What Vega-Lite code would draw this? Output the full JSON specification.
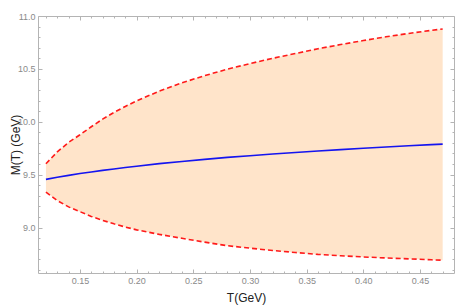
{
  "$schema": "https://vega.github.io/schema/vega-lite/v6.json",
  "width": 416,
  "height": 257,
  "autosize": {"type": "none"},
  "padding": {"left": 38, "top": 16, "right": 17, "bottom": 32},
  "background": "white",
  "config": {
    "view": {"stroke": "#b4b4b4", "strokeWidth": 1},
    "font": "Liberation Sans",
    "axis": {
      "grid": false,
      "domain": false,
      "tickColor": "#b4b4b4",
      "labelColor": "#8a8a8a",
      "labelFont": "Liberation Sans",
      "labelFontSize": 9,
      "titleFont": "Liberation Sans",
      "titleFontSize": 12,
      "titleFontWeight": "normal",
      "titleColor": "#222222"
    }
  },
  "data": {
    "values": [
      {"T": 0.12, "lower": 9.335, "mid": 9.455, "upper": 9.603},
      {"T": 0.13, "lower": 9.255, "mid": 9.475, "upper": 9.715},
      {"T": 0.14, "lower": 9.195, "mid": 9.493, "upper": 9.805},
      {"T": 0.15, "lower": 9.150, "mid": 9.510, "upper": 9.877},
      {"T": 0.16, "lower": 9.105, "mid": 9.525, "upper": 9.953},
      {"T": 0.17, "lower": 9.068, "mid": 9.540, "upper": 10.025},
      {"T": 0.18, "lower": 9.035, "mid": 9.554, "upper": 10.088},
      {"T": 0.19, "lower": 9.005, "mid": 9.568, "upper": 10.145},
      {"T": 0.20, "lower": 8.978, "mid": 9.580, "upper": 10.197},
      {"T": 0.22, "lower": 8.935, "mid": 9.604, "upper": 10.290},
      {"T": 0.24, "lower": 8.898, "mid": 9.625, "upper": 10.368},
      {"T": 0.26, "lower": 8.862, "mid": 9.644, "upper": 10.436},
      {"T": 0.28, "lower": 8.828, "mid": 9.663, "upper": 10.497},
      {"T": 0.30, "lower": 8.805, "mid": 9.679, "upper": 10.550},
      {"T": 0.32, "lower": 8.783, "mid": 9.695, "upper": 10.600},
      {"T": 0.34, "lower": 8.764, "mid": 9.710, "upper": 10.645},
      {"T": 0.36, "lower": 8.746, "mid": 9.724, "upper": 10.690},
      {"T": 0.38, "lower": 8.733, "mid": 9.737, "upper": 10.730},
      {"T": 0.40, "lower": 8.722, "mid": 9.750, "upper": 10.768},
      {"T": 0.42, "lower": 8.712, "mid": 9.762, "upper": 10.803},
      {"T": 0.44, "lower": 8.704, "mid": 9.773, "upper": 10.835},
      {"T": 0.46, "lower": 8.695, "mid": 9.784, "upper": 10.864},
      {"T": 0.47, "lower": 8.691, "mid": 9.789, "upper": 10.877}
    ]
  },
  "layer": [
    {
      "mark": {"type": "area", "color": "#FFE4CA", "opacity": 1},
      "encoding": {
        "x": {"field": "T", "type": "quantitative",
              "scale": {"domain": [0.113, 0.48], "nice": false, "zero": false},
              "axis": {"orient": "bottom", "values": [0.15, 0.2, 0.25, 0.3, 0.35, 0.4, 0.45], "format": ".2f",
                       "tickSize": -4, "labelPadding": 7, "title": "T(GeV)",
                       "titleX": 208, "titleY": 24, "titleBaseline": "middle", "titleAlign": "center"}},
        "y": {"field": "lower", "type": "quantitative",
              "scale": {"domain": [8.57, 11.0], "nice": false, "zero": false},
              "axis": {"orient": "left", "values": [9.0, 9.5, 10.0, 10.5, 11.0], "format": ".1f",
                       "tickSize": -4, "labelPadding": 7, "title": "M(T) (GeV)",
                       "titleX": -23, "titleY": 128.5, "titleAngle": -90, "titleAlign": "center", "titleBaseline": "middle"}},
        "y2": {"field": "upper"}
      }
    },
    {
      "mark": {"type": "line", "color": "#FF1A1A", "strokeWidth": 1.6, "strokeDash": [5, 3]},
      "encoding": {
        "x": {"field": "T", "type": "quantitative",
              "axis": {"orient": "bottom", "values": [0.12, 0.13, 0.14, 0.16, 0.17, 0.18, 0.19, 0.21, 0.22, 0.23, 0.24, 0.26, 0.27, 0.28, 0.29, 0.31, 0.32, 0.33, 0.34, 0.36, 0.37, 0.38, 0.39, 0.41, 0.42, 0.43, 0.44, 0.46, 0.47],
                       "tickSize": -2, "labels": false, "title": null}},
        "y": {"field": "upper", "type": "quantitative",
              "axis": {"orient": "left", "values": [8.6, 8.7, 8.8, 8.9, 9.1, 9.2, 9.3, 9.4, 9.6, 9.7, 9.8, 9.9, 10.1, 10.2, 10.3, 10.4, 10.6, 10.7, 10.8, 10.9],
                       "tickSize": -2, "labels": false, "title": null}}
      }
    },
    {
      "mark": {"type": "line", "color": "#FF1A1A", "strokeWidth": 1.6, "strokeDash": [5, 3]},
      "encoding": {
        "x": {"field": "T", "type": "quantitative",
              "axis": {"orient": "top", "values": [0.15, 0.2, 0.25, 0.3, 0.35, 0.4, 0.45],
                       "tickSize": -4, "labels": false, "title": null}},
        "y": {"field": "lower", "type": "quantitative",
              "axis": {"orient": "right", "values": [9.0, 9.5, 10.0, 10.5, 11.0],
                       "tickSize": -4, "labels": false, "title": null}}
      }
    },
    {
      "mark": {"type": "line", "color": "#1414F0", "strokeWidth": 1.6},
      "encoding": {
        "x": {"field": "T", "type": "quantitative",
              "axis": {"orient": "top", "values": [0.12, 0.13, 0.14, 0.16, 0.17, 0.18, 0.19, 0.21, 0.22, 0.23, 0.24, 0.26, 0.27, 0.28, 0.29, 0.31, 0.32, 0.33, 0.34, 0.36, 0.37, 0.38, 0.39, 0.41, 0.42, 0.43, 0.44, 0.46, 0.47],
                       "tickSize": -2, "labels": false, "title": null}},
        "y": {"field": "mid", "type": "quantitative",
              "axis": {"orient": "right", "values": [8.6, 8.7, 8.8, 8.9, 9.1, 9.2, 9.3, 9.4, 9.6, 9.7, 9.8, 9.9, 10.1, 10.2, 10.3, 10.4, 10.6, 10.7, 10.8, 10.9],
                       "tickSize": -2, "labels": false, "title": null}}
      }
    }
  ],
  "resolve": {"axis": {"x": "independent", "y": "independent"}}
}
